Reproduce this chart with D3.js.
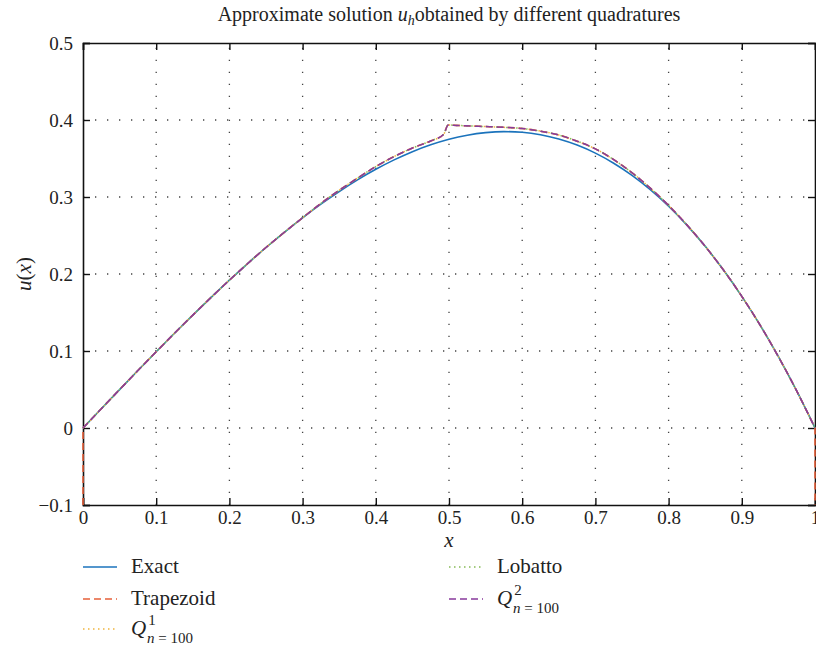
<!DOCTYPE html>
<html>
<head>
<meta charset="utf-8">
<script src="https://cdn.jsdelivr.net/npm/d3@7"></script>
<style>
  html, body { margin: 0; padding: 0; background: #fff; }
  svg { display: block; }
  svg text { font-family: "Liberation Serif", "Times New Roman", Tinos, "DejaVu Serif", serif; fill: #222; }
</style>
</head>
<body>
<svg id="chart" width="816" height="648"></svg>
<script>
// Grid of x positions and the exact solution u(x)
const xExact = [0, 0.025, 0.05, 0.075, 0.1, 0.125, 0.15, 0.175, 0.2, 0.225, 0.25, 0.275, 0.3,
  0.325, 0.35, 0.375, 0.4, 0.425, 0.45, 0.475, 0.5, 0.525, 0.55, 0.575, 0.6, 0.625, 0.65,
  0.675, 0.7, 0.725, 0.75, 0.775, 0.8, 0.825, 0.85, 0.875, 0.9, 0.925, 0.95, 0.975, 1];
const uExact = [0, 0.025, 0.0499, 0.0746, 0.099, 0.1231, 0.1466, 0.1696, 0.192, 0.2136, 0.2344,
  0.2542, 0.273, 0.2907, 0.3071, 0.3223, 0.336, 0.3482, 0.3589, 0.3678, 0.375, 0.3803, 0.3836,
  0.3849, 0.384, 0.3809, 0.3754, 0.3675, 0.357, 0.3439, 0.3281, 0.3095, 0.288, 0.2635, 0.2359,
  0.2051, 0.171, 0.1336, 0.0926, 0.0481, 0];

// Quadrature approximations (the four rules coincide inside the domain)
const xApprox = [0, 0.025, 0.05, 0.075, 0.1, 0.125, 0.15, 0.175, 0.2, 0.225, 0.25, 0.275, 0.3,
  0.325, 0.35, 0.375, 0.4, 0.425, 0.45, 0.475, 0.4925, 0.499, 0.51, 0.53, 0.55, 0.575, 0.6, 0.625,
  0.65, 0.675, 0.7, 0.725, 0.75, 0.775, 0.8, 0.825, 0.85, 0.875, 0.9, 0.925, 0.95, 0.975, 1];
const uApprox = [0, 0.025, 0.0499, 0.0746, 0.099, 0.1231, 0.1466, 0.1696, 0.192, 0.2136, 0.2344,
  0.2542, 0.273, 0.2917, 0.3087, 0.3245, 0.3395, 0.3525, 0.3636, 0.3728, 0.3812, 0.3935, 0.393,
  0.3922, 0.3915, 0.3905, 0.389, 0.3855, 0.3805, 0.3725, 0.3625, 0.3485, 0.3315, 0.3115, 0.289,
  0.2638, 0.2359, 0.2051, 0.171, 0.1336, 0.0926, 0.0481, 0];
// Trapezoid rule values at the two boundary nodes
const trapezoidBoundary = [-0.1, -0.1];

const xTicks = [0, 0.1, 0.2, 0.3, 0.4, 0.5, 0.6, 0.7, 0.8, 0.9, 1];
const xTickLabels = ["0", "0.1", "0.2", "0.3", "0.4", "0.5", "0.6", "0.7", "0.8", "0.9", "1"];
const yTicks = [-0.1, 0, 0.1, 0.2, 0.3, 0.4, 0.5];
const yTickLabels = ["\u22120.1", "0", "0.1", "0.2", "0.3", "0.4", "0.5"];

const FONT = "'Liberation Serif', 'Times New Roman', Tinos, 'DejaVu Serif', serif";
const svg = d3.select("#chart").attr("font-family", FONT);
const m = { left: 83, right: 815, top: 43, bottom: 505 };

const x = d3.scaleLinear().domain([0, 1]).range([m.left, m.right]);
const y = d3.scaleLinear().domain([-0.1, 0.5]).range([m.bottom, m.top]);

const colors = {
  exact: "#1b73bc",
  trap: "#e6603a",
  q1: "#f0b43c",
  lobatto: "#86bb55",
  q2: "#883a9c"
};

svg.append("defs").append("clipPath").attr("id", "plotClip")
  .append("rect").attr("x", m.left - 2).attr("y", m.top)
  .attr("width", m.right - m.left + 4).attr("height", m.bottom - m.top);

// Dotted grid
const grid = svg.append("g").attr("stroke", "#444").attr("stroke-width", 1.3)
  .attr("stroke-dasharray", "1.3,10.7");
grid.selectAll("line.vx").data(xTicks.slice(1, -1)).join("line")
  .attr("x1", d => x(d)).attr("x2", d => x(d)).attr("y1", m.bottom).attr("y2", m.top);
grid.selectAll("line.hy").data(yTicks.slice(1, -1)).join("line")
  .attr("x1", m.left).attr("x2", m.right).attr("y1", d => y(d)).attr("y2", d => y(d));

// Axes with inward ticks on all four sides
const tickLen = 7;
const axB = svg.append("g").attr("transform", `translate(0,${m.bottom})`)
  .call(d3.axisBottom(x).tickValues(xTicks).tickSize(-tickLen).tickPadding(6)
    .tickFormat((d, i) => xTickLabels[i]));
const axT = svg.append("g").attr("transform", `translate(0,${m.top})`)
  .call(d3.axisTop(x).tickValues(xTicks).tickSize(-tickLen).tickFormat(""));
const axL = svg.append("g").attr("transform", `translate(${m.left},0)`)
  .call(d3.axisLeft(y).tickValues(yTicks).tickSize(-tickLen).tickPadding(10)
    .tickFormat((d, i) => yTickLabels[i]));
const axR = svg.append("g").attr("transform", `translate(${m.right},0)`)
  .call(d3.axisRight(y).tickValues(yTicks).tickSize(-tickLen).tickFormat(""));

[axB, axT, axL, axR].forEach(g => {
  g.attr("font-family", FONT);
  g.select(".domain").attr("stroke", "#111").attr("stroke-width", 1.6);
  g.selectAll(".tick line").attr("stroke", "#111").attr("stroke-width", 1.4);
  g.selectAll(".tick text").attr("font-size", 19).attr("fill", "#222");
});

// Curves
const plot = svg.append("g").attr("clip-path", "url(#plotClip)");
const line = d3.line().x(d => x(d[0])).y(d => y(d[1])).curve(d3.curveMonotoneX);
const approxPts = xApprox.map((v, i) => [v, uApprox[i]]);

plot.append("path").datum(xExact.map((v, i) => [v, uExact[i]]))
  .attr("d", line).attr("fill", "none").attr("stroke", colors.exact).attr("stroke-width", 1.6);

// Trapezoid: straight drops to the boundary values, smooth interior
const trapD = `M${x(0)},${y(trapezoidBoundary[0])}` + line(approxPts).replace(/^M/, "L") +
  `L${x(1)},${y(trapezoidBoundary[1])}`;
plot.append("path").attr("d", trapD)
  .attr("fill", "none").attr("stroke", colors.trap).attr("stroke-width", 1.6)
  .attr("stroke-dasharray", "7,4");
plot.append("path").datum(approxPts).attr("d", line)
  .attr("fill", "none").attr("stroke", colors.q1).attr("stroke-width", 1.5)
  .attr("stroke-dasharray", "1.5,3.5");
plot.append("path").datum(approxPts).attr("d", line)
  .attr("fill", "none").attr("stroke", colors.lobatto).attr("stroke-width", 1.5)
  .attr("stroke-dasharray", "1.5,3.5").attr("stroke-dashoffset", 2.5);
plot.append("path").datum(approxPts).attr("d", line)
  .attr("fill", "none").attr("stroke", colors.q2).attr("stroke-width", 1.5)
  .attr("stroke-dasharray", "7,4");

// Title
const title = svg.append("text").attr("x", (m.left + m.right) / 2).attr("y", 21)
  .attr("text-anchor", "middle").attr("font-size", 20);
title.append("tspan").text("Approximate solution ");
title.append("tspan").attr("font-style", "italic").text("u");
title.append("tspan").attr("font-style", "italic").attr("font-size", 14).attr("dy", 4).text("h");
title.append("tspan").attr("dy", -4).text("obtained by different quadratures");

// Axis labels
svg.append("text").attr("x", (m.left + m.right) / 2).attr("y", 547)
  .attr("text-anchor", "middle").attr("font-size", 21).attr("font-style", "italic").text("x");
const yl = svg.append("text").attr("transform", `translate(31,${(m.top + m.bottom) / 2}) rotate(-90)`)
  .attr("text-anchor", "middle").attr("font-size", 21);
yl.append("tspan").attr("font-style", "italic").text("u");
yl.append("tspan").text("(");
yl.append("tspan").attr("font-style", "italic").text("x");
yl.append("tspan").text(")");

// Legend
const legendItems = [
  { key: "exact", label: "Exact", col: 0, row: 0, dash: null },
  { key: "trap", label: "Trapezoid", col: 0, row: 1, dash: "7,4" },
  { key: "q1", label: "Q", col: 0, row: 2, dash: "1.5,3.5", sup: "1" },
  { key: "lobatto", label: "Lobatto", col: 1, row: 0, dash: "1.5,3.5" },
  { key: "q2", label: "Q", col: 1, row: 1, dash: "7,4", sup: "2" }
];
const colX = [{ l0: 83, l1: 117, t: 131 }, { l0: 449, l1: 483, t: 497 }];
const rowY = [567, 599, 629];
const lg = svg.append("g");
legendItems.forEach(it => {
  const c = colX[it.col], ly = rowY[it.row];
  const ln = lg.append("line").attr("x1", c.l0).attr("x2", c.l1).attr("y1", ly).attr("y2", ly)
    .attr("stroke", colors[it.key]).attr("stroke-width", 1.5);
  if (it.dash) ln.attr("stroke-dasharray", it.dash);
  const t = lg.append("text").attr("x", c.t).attr("y", ly + 6).attr("font-size", 21);
  if (it.sup) {
    t.append("tspan").attr("font-style", "italic").text(it.label);
    t.append("tspan").attr("font-size", 15).attr("dy", -10).attr("dx", 2).text(it.sup);
    const sub = lg.append("text").attr("x", c.t + 16).attr("y", ly + 14).attr("font-size", 15);
    sub.append("tspan").attr("font-style", "italic").text("n");
    sub.append("tspan").text(" = 100");
  } else {
    t.text(it.label);
  }
});
</script>
</body>
</html>
